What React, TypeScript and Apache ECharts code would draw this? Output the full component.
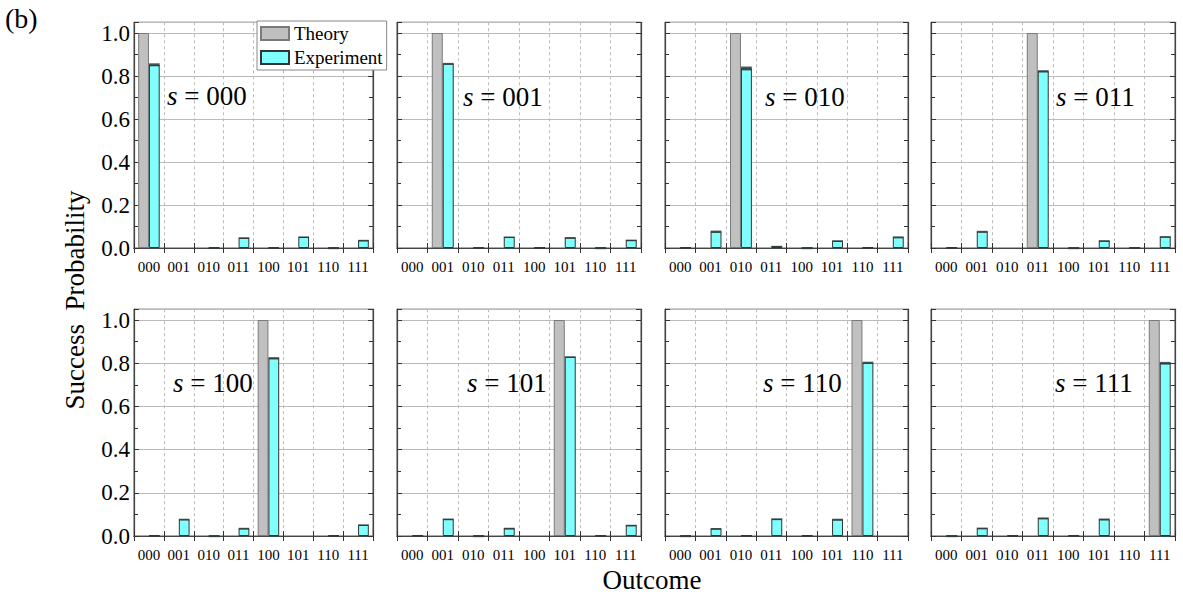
import React, { useEffect, useRef } from "react";
import * as echarts from "echarts";

const CATEGORIES = ["000", "001", "010", "011", "100", "101", "110", "111"];
const SETTINGS = ["000", "001", "010", "011", "100", "101", "110", "111"];

const THEORY_000 = [1, 0, 0, 0, 0, 0, 0, 0];
const THEORY_001 = [0, 1, 0, 0, 0, 0, 0, 0];
const THEORY_010 = [0, 0, 1, 0, 0, 0, 0, 0];
const THEORY_011 = [0, 0, 0, 1, 0, 0, 0, 0];
const THEORY_100 = [0, 0, 0, 0, 1, 0, 0, 0];
const THEORY_101 = [0, 0, 0, 0, 0, 1, 0, 0];
const THEORY_110 = [0, 0, 0, 0, 0, 0, 1, 0];
const THEORY_111 = [0, 0, 0, 0, 0, 0, 0, 1];

const EXP_000 = [0.852, 0, 0.002, 0.047, 0.002, 0.051, 0.001, 0.036];
const EXP_001 = [0, 0.857, 0.002, 0.051, 0.002, 0.048, 0.001, 0.037];
const EXP_010 = [0.003, 0.076, 0.835, 0.008, 0.001, 0.033, 0.003, 0.05];
const EXP_011 = [0.003, 0.076, 0, 0.822, 0.001, 0.034, 0.002, 0.053];
const EXP_100 = [0.003, 0.077, 0.001, 0.035, 0.823, 0, 0.002, 0.051];
const EXP_101 = [0.003, 0.078, 0.001, 0.036, 0, 0.829, 0.002, 0.05];
const EXP_110 = [0.001, 0.034, 0.003, 0.078, 0.003, 0.076, 0.802, 0];
const EXP_111 = [0.001, 0.036, 0.002, 0.082, 0.003, 0.077, 0, 0.8];

const ERR_000 = [0.007, 0, 0.001, 0.003, 0.001, 0.003, 0.001, 0.002];
const ERR_001 = [0, 0.004, 0.001, 0.003, 0.001, 0.003, 0.001, 0.002];
const ERR_010 = [0.001, 0.005, 0.009, 0.002, 0.001, 0.003, 0.001, 0.004];
const ERR_011 = [0.001, 0.004, 0, 0.005, 0.001, 0.002, 0.001, 0.002];
const ERR_100 = [0.001, 0.003, 0.001, 0.003, 0.005, 0, 0.001, 0.003];
const ERR_101 = [0.001, 0.003, 0.001, 0.002, 0, 0.003, 0.001, 0.002];
const ERR_110 = [0.001, 0.003, 0.001, 0.004, 0.001, 0.004, 0.005, 0];
const ERR_111 = [0.001, 0.003, 0.001, 0.004, 0.001, 0.004, 0, 0.006];

const THEORY = [THEORY_000, THEORY_001, THEORY_010, THEORY_011, THEORY_100, THEORY_101, THEORY_110, THEORY_111];
const EXPERIMENT = [EXP_000, EXP_001, EXP_010, EXP_011, EXP_100, EXP_101, EXP_110, EXP_111];
const ERRORS = [ERR_000, ERR_001, ERR_010, ERR_011, ERR_100, ERR_101, ERR_110, ERR_111];

const Y_TICKS_INTERVAL = 0.2;

const FONT = "Liberation Serif";

// layout
const GRID_LEFTS = [134, 397, 665, 931];
const GRID_WIDTHS = [239, 244, 243, 244];
const ROW_TOPS = [22.25, 309.2];
const ROW_HEIGHTS = [225.75, 226.8];
const LABEL_POS = [
  [167, 81], [463, 82], [765, 82], [1056, 82],
  [173, 368], [467, 368], [763, 368], [1055, 368],
];
const BAR_FRAC = 0.36;

export default function App() {
  const ref = useRef<HTMLDivElement>(null);

  useEffect(() => {
    if (!ref.current) return;
    const chart = echarts.init(ref.current, null, { renderer: "svg" });

    const grid: any[] = [];
    const xAxis: any[] = [];
    const yAxis: any[] = [];
    const series: any[] = [];
    const title: any[] = [];

    SETTINGS.forEach((s, i) => {
      const col = i % 4;
      const row = Math.floor(i / 4);
      grid.push({
        left: GRID_LEFTS[col],
        top: ROW_TOPS[row],
        width: GRID_WIDTHS[col],
        height: ROW_HEIGHTS[row],
        show: true,
        backgroundColor: "#fff",
        borderColor: "#555",
        borderWidth: 1,
      });
      xAxis.push({
        gridIndex: i,
        type: "category",
        data: CATEGORIES,
        position: "bottom",
        axisLine: { show: true, lineStyle: { color: "#444", width: 1.2 } },
        axisTick: { show: true, inside: true, length: 5, lineStyle: { color: "#333" } },
        axisLabel: { interval: 0, fontSize: 15, fontFamily: FONT, color: "#000", margin: 11 },
        splitLine: { show: true, interval: 0, lineStyle: { type: [3, 3], color: "#bbb", width: 1 } },
      });
      xAxis.push({
        gridIndex: i,
        type: "category",
        data: CATEGORIES,
        position: "top",
        axisLine: { show: true, lineStyle: { color: "#444", width: 1.2 } },
        axisTick: { show: true, inside: true, length: 5, lineStyle: { color: "#333" } },
        axisLabel: { show: false },
        splitLine: { show: false },
      });
      yAxis.push({
        gridIndex: i,
        type: "value",
        min: 0,
        max: 1.05,
        interval: Y_TICKS_INTERVAL,
        position: "left",
        axisLine: { show: true, lineStyle: { color: "#444", width: 1.2 } },
        axisTick: { show: true, inside: true, length: 5, lineStyle: { color: "#333" } },
        minorTick: { show: true, splitNumber: 2, length: 4, lineStyle: { color: "#333" } },
        axisLabel: {
          show: col === 0,
          showMaxLabel: false,
          formatter: (v: number) => (v > 1.001 ? "" : v.toFixed(1)),
          fontSize: 23,
          fontFamily: FONT,
          color: "#000",
          margin: 4,
        },
        splitLine: { show: true, lineStyle: { color: "#bbb", width: 1 } },
      });
      yAxis.push({
        gridIndex: i,
        type: "value",
        min: 0,
        max: 1.05,
        interval: Y_TICKS_INTERVAL,
        position: "right",
        axisLine: { show: true, lineStyle: { color: "#444", width: 1.2 } },
        axisTick: { show: true, inside: true, length: 5, lineStyle: { color: "#333" } },
        minorTick: { show: true, splitNumber: 2, length: 4, lineStyle: { color: "#333" } },
        axisLabel: { show: false },
        splitLine: { show: false },
      });

      series.push({
        type: "bar",
        name: "Theory",
        xAxisIndex: 2 * i,
        yAxisIndex: 2 * i,
        barWidth: `${BAR_FRAC * 100}%`,
        barGap: "0%",
        data: THEORY[i].map((v) => (v === 0 ? null : v)),
        itemStyle: { color: "#c0c0c0", borderColor: "#7a7a7a", borderWidth: 1 },
      });
      series.push({
        type: "bar",
        name: "Experiment",
        xAxisIndex: 2 * i,
        yAxisIndex: 2 * i,
        barWidth: `${BAR_FRAC * 100}%`,
        barGap: "0%",
        data: EXPERIMENT[i].map((v) => (v === 0 ? null : v)),
        itemStyle: { color: "#80ffff", borderColor: "#333", borderWidth: 1 },
      });
      series.push({
        type: "custom",
        xAxisIndex: 2 * i,
        yAxisIndex: 2 * i,
        silent: true,
        z: 3,
        encode: { x: 0, y: 1 },
        data: EXPERIMENT[i].map((v, k) => [k, v, ERRORS[i][k]]),
        renderItem: (params: any, api: any) => {
          const k = api.value(0);
          const v = api.value(1);
          const e = api.value(2);
          if (!(v > 0)) return null;
          const top = api.coord([k, v + e]);
          const bot = api.coord([k, Math.max(0, v - e)]);
          const w = api.size([1, 0])[0] * BAR_FRAC;
          const h = Math.max(bot[1] - top[1], 1.6);
          return {
            type: "rect",
            shape: { x: top[0], y: top[1], width: w, height: h },
            style: { fill: "#2b3b3b", opacity: 0.85 },
          };
        },
      });

      title.push({
        text: `{i|s} = ${s}`,
        left: LABEL_POS[i][0],
        top: LABEL_POS[i][1],
        padding: 0,
        textStyle: {
          fontSize: 27,
          fontFamily: FONT,
          fontWeight: "normal",
          color: "#000",
          lineHeight: 30,
          rich: {
            i: { fontStyle: "italic", fontSize: 27, fontFamily: FONT, color: "#000", lineHeight: 30 },
          },
        },
      });
    });

    title.push({
      text: "(b)",
      left: 5,
      top: 4,
      padding: 0,
      textStyle: { fontSize: 28, fontFamily: FONT, fontWeight: "normal", color: "#000" },
    });

    chart.setOption({
      animation: false,
      backgroundColor: "#fff",
      title,
      legend: {
        data: ["Theory", "Experiment"],
        orient: "vertical",
        left: 257,
        top: 21,
        z: 10,
        backgroundColor: "#fff",
        borderColor: "#888",
        borderWidth: 1,
        borderRadius: 0,
        padding: [3, 4, 3, 3],
        itemWidth: 28,
        itemHeight: 13,
        itemGap: 5,
        icon: "rect",
        textStyle: { fontSize: 19, fontFamily: FONT, color: "#000" },
      },
      grid,
      xAxis,
      yAxis,
      series,
      graphic: [
        {
          type: "text",
          x: 75,
          y: 300,
          rotation: Math.PI / 2,
          style: {
            text: "Success  Probability",
            fontSize: 27,
            fontFamily: FONT,
            fill: "#000",
            align: "center",
            verticalAlign: "middle",
          },
        },
        {
          type: "text",
          x: 652,
          y: 580,
          style: {
            text: "Outcome",
            fontSize: 27,
            fontFamily: FONT,
            fill: "#000",
            align: "center",
            verticalAlign: "middle",
          },
        },
      ],
    });

    return () => chart.dispose();
  }, []);

  return (
    <div
      ref={ref}
      style={{ position: "fixed", left: 0, top: 0, width: 1183, height: 597, background: "#fff" }}
    />
  );
}
